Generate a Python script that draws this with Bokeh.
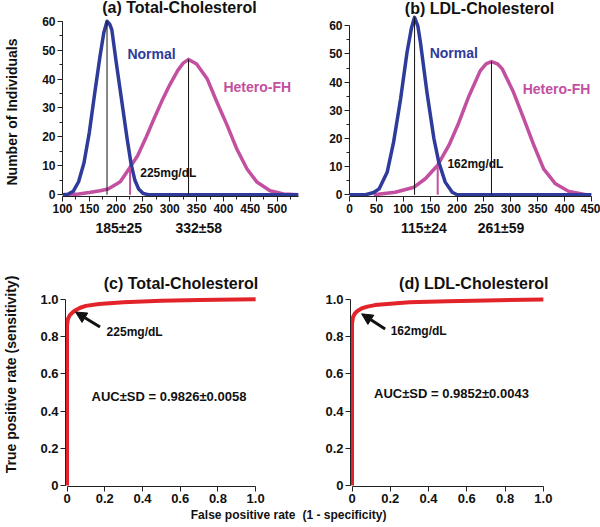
from bokeh.plotting import figure
from bokeh.layouts import column, row
from bokeh.models import (Range1d, FixedTicker, SingleIntervalTicker, LinearAxis,
                          Label, Arrow, NormalHead, Title)
from bokeh.embed import file_html
from bokeh.resources import INLINE

# ---------------- data ----------------
# (a) Total cholesterol distributions (mg/dL vs number of individuals)
tc_normal_x = [100, 110, 120, 130, 140, 150, 160, 170, 177, 183, 188, 192, 200, 210, 220, 228, 235, 242, 250, 260, 540]
tc_normal_y = [0, 0.2, 1.2, 4.5, 11, 21.5, 35, 48, 56, 60, 59, 57, 46, 33, 20, 10.5, 5, 2, 0.5, 0, 0]
tc_fh_x = [110, 130, 150, 170, 185, 200, 208, 215, 226, 240, 255, 270, 285, 300, 315, 325, 335, 350, 370, 388, 407, 425, 444, 463, 487, 512, 540]
tc_fh_y = [0, 0.3, 0.8, 1.4, 2, 3.6, 4.6, 6.5, 9.5, 13.5, 19.5, 26, 32.3, 38, 43, 45.5, 46.8, 45.2, 40, 32, 24, 15.8, 8.9, 4.3, 1.4, 0.3, 0]
tc_means = [183, 335]
tc_peaks = [60, 46.8]
tc_cutoff = [226]
tc_cutoff_height = [9.5]
tc_stats = ["185±25", "332±58"]

# (b) LDL cholesterol distributions
ldl_normal_x = [0, 30, 45, 55, 70, 82, 95, 107, 115, 121, 127, 132, 144, 157, 166, 178, 191, 200, 250, 450]
ldl_normal_y = [0, 0, 0.8, 2.1, 8, 18.7, 34, 50.6, 59, 63, 60, 54, 36.4, 19.9, 11.6, 4.5, 0.9, 0, 0, 0]
ldl_fh_x = [45, 85, 120, 141, 164, 185, 203, 222, 243, 254, 264, 275, 284, 305, 324, 343, 361, 383, 408, 440, 450]
ldl_fh_y = [0, 0.9, 2.7, 5.7, 10.5, 17.6, 25.5, 35, 44, 46.5, 47.3, 46.5, 44.7, 36.4, 27, 17.5, 9.2, 3.9, 1.2, 0, 0]
ldl_means = [121, 264]
ldl_peaks = [63, 47.3]
ldl_cutoff = [164]
ldl_cutoff_height = [10.5]
ldl_stats = ["115±24", "261±59"]

# (c), (d) ROC curves
roc_tc_fpr = [0, 0, 0.005, 0.015, 0.03, 0.045, 0.07, 0.1, 0.17, 0.3, 0.5, 0.7, 1.0]
roc_tc_tpr = [0, 0.86, 0.895, 0.915, 0.93, 0.942, 0.955, 0.965, 0.975, 0.985, 0.992, 0.996, 1.0]
roc_ldl_fpr = [0, 0, 0.005, 0.015, 0.03, 0.05, 0.08, 0.12, 0.2, 0.3, 0.5, 0.7, 1.0]
roc_ldl_tpr = [0, 0.87, 0.905, 0.925, 0.94, 0.952, 0.962, 0.97, 0.977, 0.985, 0.991, 0.995, 1.0]
roc_ticks = [0, 0.2, 0.4, 0.6, 0.8, 1.0]
roc_tick_labels = ["0", "0.2", "0.4", "0.6", "0.8", "1.0"]
auc_tc = "AUC±SD = 0.9826±0.0058"
auc_ldl = "AUC±SD = 0.9852±0.0043"

titles = ["(a) Total-Cholesterol", "(b) LDL-Cholesterol", "(c) Total-Cholesterol", "(d) LDL-Cholesterol"]

# ---------------- styling ----------------
FONT = "Liberation Sans"
BLUE = "#2e3b9a"
MAGENTA = "#c24fa0"
RED = "#e3232a"
INK = "#111111"
AXC = "#222222"


def style(p, tick_size):
    p.outline_line_color = None
    p.xgrid.visible = False
    p.ygrid.visible = False
    for ax in p.axis:
        ax.axis_line_color = AXC
        ax.axis_line_width = 1
        ax.major_tick_line_color = AXC
        ax.minor_tick_line_color = AXC
        ax.major_tick_in = 0
        ax.major_tick_out = 5
        ax.minor_tick_in = 0
        ax.minor_tick_out = 3
        ax.major_label_text_font = FONT
        ax.major_label_text_font_style = "bold"
        ax.major_label_text_font_size = tick_size
        ax.major_label_text_color = INK
        ax.major_label_standoff = 2
        ax.axis_label_text_font = FONT
        ax.axis_label_text_font_style = "bold"
        ax.axis_label_text_font_size = "14px"
        ax.axis_label_text_color = INK


def label(p, x, y, text, color=INK, size="12px", align="left"):
    p.add_layout(Label(x=x, y=y, text=text, text_color=color, text_font=FONT,
                       text_font_style="bold", text_font_size=size,
                       text_align=align, text_baseline="middle"))


def stats_axis(p, ticks, texts):
    ax = LinearAxis(ticker=FixedTicker(ticks=ticks),
                    major_label_overrides={t: s for t, s in zip(ticks, texts)})
    ax.axis_line_color = None
    ax.major_tick_line_color = None
    ax.minor_tick_line_color = None
    ax.major_tick_out = 0
    ax.major_label_standoff = 4
    ax.major_label_text_font = FONT
    ax.major_label_text_font_style = "bold"
    ax.major_label_text_font_size = "14px"
    ax.major_label_text_color = INK
    p.add_layout(ax, "below")


def dist_panel(xr, yr, borders, nx, ny, fx, fy, means, peaks, cut, cut_h):
    bl, br = borders
    p = figure(width=300, height=262, x_range=Range1d(*xr), y_range=Range1d(*yr),
               output_backend="svg", toolbar_location=None,
               min_border_left=bl, min_border_right=br, min_border_top=0, min_border_bottom=66)
    p.line(fx, fy, line_width=3.5, color=MAGENTA, line_join="round")
    p.line(nx, ny, line_width=3.5, color=BLUE, line_join="round")
    p.segment(x0=means, y0=[0] * len(means), x1=means, y1=peaks, color=INK, line_width=1)
    p.segment(x0=cut, y0=[0], x1=cut, y1=cut_h, color=MAGENTA, line_width=2)
    p.yaxis.ticker = SingleIntervalTicker(interval=10, num_minor_ticks=2)
    p.yaxis.bounds = (0, 60)
    style(p, "12px")
    return p


# (a)
pa = dist_panel((100, 540), (-0.6, 67.16), (62, 2),
                tc_normal_x, tc_normal_y, tc_fh_x, tc_fh_y, tc_means, tc_peaks, tc_cutoff, tc_cutoff_height)
pa.xaxis.ticker = SingleIntervalTicker(interval=50, num_minor_ticks=2)
# invisible spacer axis pushes the rotated y title outwards
spacer = LinearAxis(ticker=FixedTicker(ticks=[30]), major_label_overrides={30: ""},
                    axis_line_color=None, major_tick_line_color=None, minor_tick_line_color=None,
                    major_tick_in=0, major_tick_out=18, major_label_standoff=0)
pa.add_layout(spacer, "left")
pa.add_layout(Title(text="Number of Individuals", align="left", offset=11, vertical_align="top",
                    text_font=FONT, text_font_size="14px", text_font_style="bold", text_color=INK,
                    standoff=0), "left")
label(pa, 318, 64.6, titles[0], INK, "16px", "center")
label(pa, 221, 48.8, "Normal", BLUE, "14px")
label(pa, 400, 37.1, "Hetero-FH", MAGENTA, "14px")
label(pa, 245, 7.4, "225mg/dL", INK, "12px")
stats_axis(pa, [205, 354], tc_stats)

# (b)
pb = dist_panel((0, 450), (-0.6, 68.97), (49, 9),
                ldl_normal_x, ldl_normal_y, ldl_fh_x, ldl_fh_y, ldl_means, ldl_peaks, ldl_cutoff, ldl_cutoff_height)
pb.xaxis.ticker = SingleIntervalTicker(interval=50, num_minor_ticks=0)
label(pb, 241.7, 66.3, titles[1], INK, "16px", "center")
label(pb, 149, 50.2, "Normal", BLUE, "14px")
label(pb, 322, 37.7, "Hetero-FH", MAGENTA, "14px")
label(pb, 182, 10.9, "162mg/dL", INK, "12px")
stats_axis(pb, [138.5, 281.6], ldl_stats)


def roc_panel(borders, x_end, y_top, fpr, tpr):
    bl, br, bb = borders
    p = figure(width=300, height=265, x_range=Range1d(-0.008, x_end), y_range=Range1d(-0.005, y_top),
               output_backend="svg", toolbar_location=None,
               min_border_left=bl, min_border_right=br, min_border_top=0, min_border_bottom=bb)
    p.line(fpr, tpr, line_width=4, color=RED, line_join="round")
    for ax in (p.xaxis[0], p.yaxis[0]):
        ax.ticker = FixedTicker(ticks=roc_ticks, minor_ticks=[])
        ax.major_label_overrides = {t: s for t, s in zip(roc_ticks, roc_tick_labels)}
        ax.bounds = (0, 1)
    style(p, "13px")
    return p


pc = roc_panel((61, 26, 40), 1.1, 1.198, roc_tc_fpr, roc_tc_tpr)
label(pc, 0.604, 1.085, titles[2], INK, "16px", "center")
pc.yaxis.axis_label = "True positive rate (sensitivity)"
pc.yaxis.axis_label_standoff = 18
pc.add_layout(Arrow(end=NormalHead(size=11, fill_color=INK, line_color=INK), x_start=0.175, y_start=0.852,
                    x_end=0.045, y_end=0.932, line_width=3, line_color=INK))
label(pc, 0.21, 0.825, "225mg/dL", INK, "12px")
label(pc, 0.13, 0.477, auc_tc, INK, "13px")
pc.add_layout(Title(text="False positive rate", align="right", offset=-21, text_font=FONT,
                    text_font_size="12px", text_font_style="bold", text_color=INK, standoff=0), "below")

pd = roc_panel((50, 38, 41), 1.1, 1.199, roc_ldl_fpr, roc_ldl_tpr)
label(pd, 0.636, 1.085, titles[3], INK, "16px", "center")
pd.add_layout(Arrow(end=NormalHead(size=11, fill_color=INK, line_color=INK), x_start=0.173, y_start=0.842,
                    x_end=0.05, y_end=0.923, line_width=3, line_color=INK))
label(pd, 0.202, 0.833, "162mg/dL", INK, "12px")
label(pd, 0.115, 0.494, auc_ldl, INK, "13px")
pd.add_layout(Title(text="(1 - specificity)", align="left", offset=-48, text_font=FONT,
                    text_font_size="12px", text_font_style="bold", text_color=INK, standoff=0), "below")

layout = column(row(pa, pb), row(pc, pd))
open("out.html", "w").write(file_html(layout, INLINE))
